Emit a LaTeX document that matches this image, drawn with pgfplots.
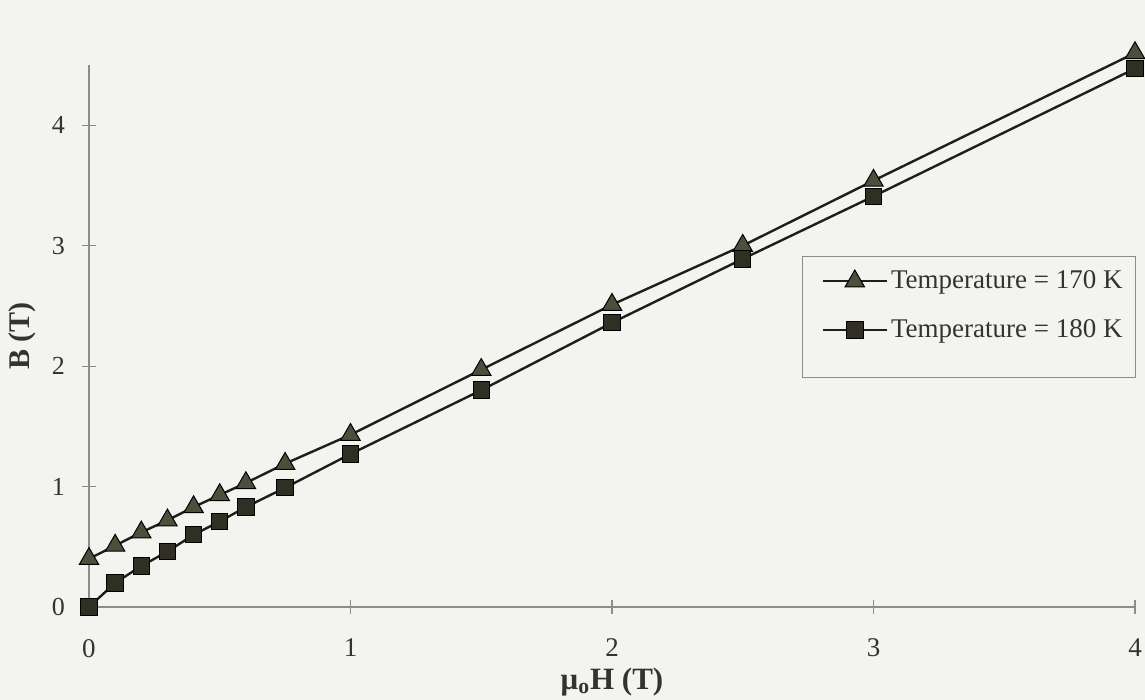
\documentclass[border=0pt]{standalone}
\usepackage{fontspec}
\setmainfont{Liberation Serif}
\usepackage{pgfplots}
\pgfplotsset{compat=1.18}
\definecolor{paper}{HTML}{F3F3EF}
\definecolor{axgray}{HTML}{8C8C8C}
\definecolor{txt}{HTML}{333333}
\definecolor{trifill}{HTML}{4E4E3C}
\definecolor{sqfill}{HTML}{2F2F24}
\definecolor{linec}{HTML}{1E1E1A}
\begin{document}
\begin{tikzpicture}
\fill[paper] (-44.5pt,-46.5pt) rectangle (528pt,303.5pt);
\begin{axis}[
  at={(0,0)}, anchor=south west,
  scale only axis, width=523pt, height=271pt,
  xmin=0, xmax=4, ymin=0, ymax=4.5,
  axis lines=left, axis line style={-, axgray, line width=0.6pt},
  xtick={0,1,2,3,4}, ytick={0,1,2,3,4},
  tick align=center, major tick length=7pt,
  tick style={axgray, line width=0.6pt},
  clip=false,
  /pgf/number format/assume math mode=true,
  yticklabel style={font=\fontsize{13}{15}\selectfont, text=txt, xshift=-5pt},
  xticklabel style={font=\fontsize{13.5}{15}\selectfont, text=txt, yshift=-9pt},
  xlabel={\textbf{μ\textsubscript{o}H (T)}},
  ylabel={\textbf{B (T)}},
  xlabel style={at={(axis description cs:0.5,-0.138)}, anchor=center, inner sep=0pt, font=\fontsize{15.5}{17}\selectfont, text=txt},
  ylabel style={at={(axis description cs:-0.064,0.5)}, anchor=center, font=\fontsize{15}{17}\selectfont, text=txt},
  legend style={at={(axis cs:2.80,2.82)}, anchor=north west, draw=none, fill=none,
    inner sep=0pt, row sep=11pt, font=\fontsize{13.5}{15}\selectfont, text=txt,
    nodes={inner sep=1.5pt}},
  legend cell align=left,
  legend image code/.code={\draw[mark repeat=2,mark phase=2,#1] plot coordinates {(0pt,0pt) (16pt,0pt) (32pt,0pt)};},
]
\draw[axgray, line width=0.5pt] (axis cs:2.727,1.909) rectangle (axis cs:4,2.913);
\addplot[linec, line width=1.2pt, mark=triangle*, mark size=5.6pt,
  mark options={fill=trifill, draw=black, line width=0.5pt}] coordinates {
  (0,0.40) (0.1,0.51) (0.2,0.62) (0.3,0.72) (0.4,0.83) (0.5,0.93) (0.6,1.03)
  (0.75,1.19) (1,1.43) (1.5,1.97) (2,2.51) (2.5,3.00) (3,3.54) (4,4.60)};
\addlegendentry{Temperature = 170 K}
\addplot[linec, line width=1.2pt, mark=square*, mark size=4.1pt,
  mark options={fill=sqfill, draw=black, line width=0.5pt}] coordinates {
  (0,0) (0.1,0.20) (0.2,0.34) (0.3,0.46) (0.4,0.60) (0.5,0.71) (0.6,0.83)
  (0.75,0.99) (1,1.27) (1.5,1.80) (2,2.36) (2.5,2.89) (3,3.41) (4,4.47)};
\addlegendentry{Temperature = 180 K}
\end{axis}
\pgfresetboundingbox
\path[use as bounding box] (-44.5pt,-46.5pt) rectangle (528pt,303.5pt);
\end{tikzpicture}
\end{document}
